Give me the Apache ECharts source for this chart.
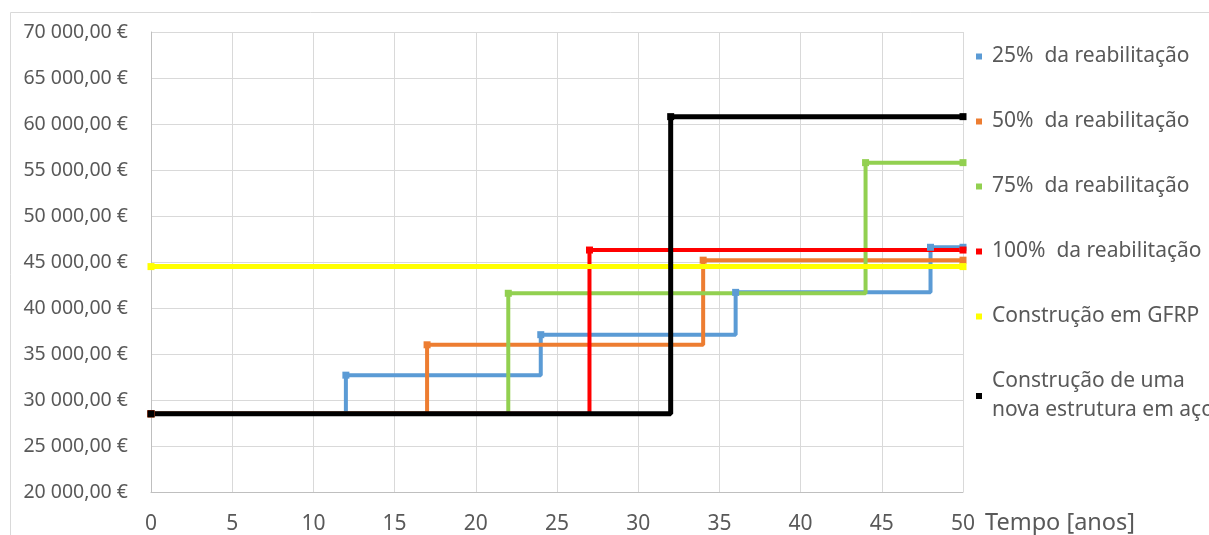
<!DOCTYPE html>
<html>
<head>
<meta charset="utf-8">
<script src="https://cdn.jsdelivr.net/npm/echarts@6/dist/echarts.min.js"></script>
<style>
  html, body { margin: 0; padding: 0; background: #fff; }
  #chart { width: 1209px; height: 535px; }
</style>
</head>
<body>
<div id="chart"></div>
<script>
// anos em que cada solução muda de custo
const years25 = [0, 12, 24, 36, 48, 50];
const cost25 = [28500, 32700, 37100, 41700, 46600, 46600];
const years50 = [0, 17, 34, 50];
const cost50 = [28500, 36000, 45200, 45200];
const years75 = [0, 22, 44, 50];
const cost75 = [28500, 41600, 55800, 55800];
const years100 = [0, 27, 50];
const cost100 = [28500, 46300, 46300];
const yearsGfrp = [0, 50];
const costGfrp = [44500, 44500];
const yearsAco = [0, 32, 50];
const costAco = [28500, 60800, 60800];

const seriesNames = [
  '25%  da reabilitação',
  '50%  da reabilitação',
  '75%  da reabilitação',
  '100%  da reabilitação',
  'Construção em GFRP',
  'Construção de uma\nnova estrutura em aço',
];
const colors = ['#5b9bd5', '#ed7d31', '#92d050', '#ff0000', '#ffff00', '#000000'];

const textColor = '#595959';
const font = 'Noto Sans';

// junta x e y em pares para o echarts
const zip = (xs, ys) => xs.map((x, i) => [x, ys[i]]);

// 70 000,00 €
const formatEuro = (v) => {
  const s = Math.round(v).toString().replace(/\B(?=(\d{3})+(?!\d))/g, ' ');
  return `${s},00 €`;
};

const stepSeries = (name, xs, ys, color, width) => ({
  name,
  type: 'line',
  step: 'end',
  data: zip(xs, ys),
  symbol: 'rect',
  symbolSize: 7,
  showSymbol: true,
  lineStyle: { color, width },
  itemStyle: { color },
});

const myChart = echarts.init(document.getElementById('chart'), null, { renderer: 'canvas' });

const option = {
  animation: false,
  color: colors,
  textStyle: { fontFamily: font },
  graphic: [
    {
      type: 'rect',
      shape: { x: 10.5, y: 12.5, width: 1300, height: 700 },
      style: { fill: 'none', stroke: '#d9d9d9', lineWidth: 1 },
      silent: true,
      z: -10,
    },
  ],
  grid: {
    left: 151,
    right: 246,
    top: 32,
    bottom: 43,
    containLabel: false,
  },
  legend: {
    orient: 'vertical',
    left: 976,
    top: 42,
    padding: 0,
    itemGap: 36,
    itemWidth: 6,
    itemHeight: 6,
    icon: 'rect',
    data: seriesNames,
    textStyle: {
      color: textColor,
      fontFamily: font,
      fontSize: 21,
      lineHeight: 29,
      padding: [0, 0, 0, 5],
    },
  },
  xAxis: {
    type: 'value',
    min: 0,
    max: 50,
    interval: 5,
    name: 'Tempo [anos]',
    nameLocation: 'end',
    nameGap: 22,
    nameTextStyle: {
      color: textColor,
      fontFamily: font,
      fontSize: 23.5,
      verticalAlign: 'top',
      padding: [19, 0, 0, 0],
    },
    axisLine: { show: true, lineStyle: { color: '#bfbfbf', width: 1 } },
    axisTick: { show: false },
    axisLabel: { color: textColor, fontFamily: font, fontSize: 21, margin: 22 },
    splitLine: { show: true, lineStyle: { color: '#d9d9d9', width: 1 } },
  },
  yAxis: {
    type: 'value',
    min: 20000,
    max: 70000,
    interval: 5000,
    axisLine: { show: true, lineStyle: { color: '#bfbfbf', width: 1 } },
    axisTick: { show: false },
    axisLabel: {
      color: textColor,
      fontFamily: font,
      fontSize: 19.5,
      margin: 23,
      formatter: formatEuro,
    },
    splitLine: { show: true, lineStyle: { color: '#d9d9d9', width: 1 } },
  },
  series: [
    stepSeries(seriesNames[0], years25, cost25, colors[0], 4),
    stepSeries(seriesNames[1], years50, cost50, colors[1], 4),
    stepSeries(seriesNames[2], years75, cost75, colors[2], 4),
    stepSeries(seriesNames[3], years100, cost100, colors[3], 4),
    stepSeries(seriesNames[4], yearsGfrp, costGfrp, colors[4], 5),
    stepSeries(seriesNames[5], yearsAco, costAco, colors[5], 5),
  ],
};

myChart.setOption(option);
</script>
</body>
</html>
